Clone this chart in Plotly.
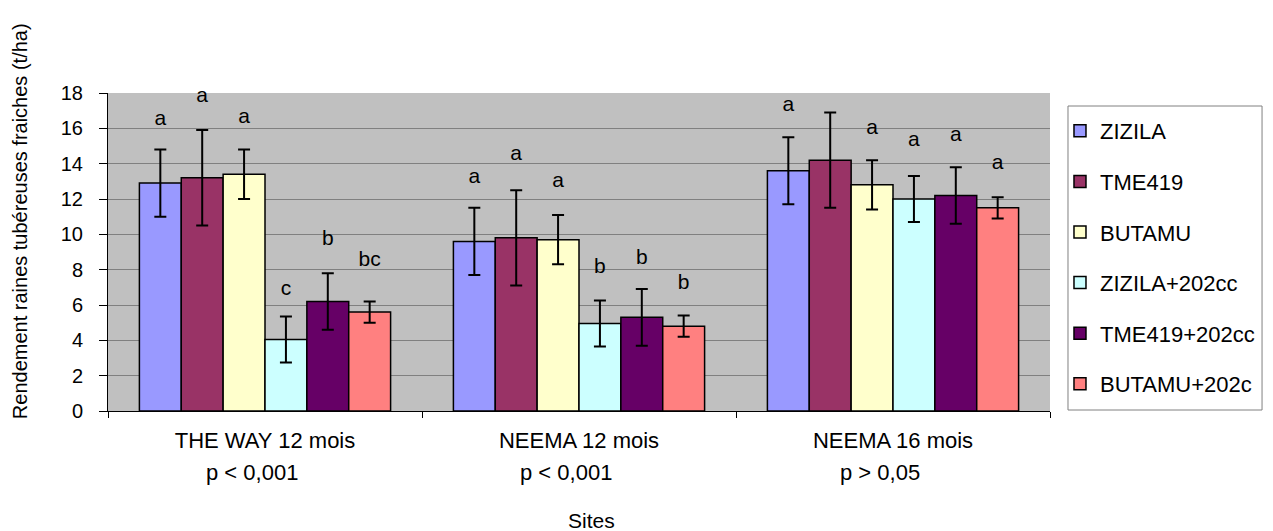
import plotly.graph_objects as go

sites = ["THE WAY 12 mois", "NEEMA 12 mois", "NEEMA 16 mois"]
pvalues = ["p < 0,001", "p < 0,001", "p > 0,05"]

series = ["ZIZILA", "TME419", "BUTAMU", "ZIZILA+202cc", "TME419+202cc", "BUTAMU+202c"]
colors = ["#9999FF", "#993366", "#FFFFCC", "#CCFFFF", "#660066", "#FF8080"]

zizila = [12.9, 9.6, 13.6]
tme419 = [13.2, 9.8, 14.2]
butamu = [13.4, 9.7, 12.8]
zizila_202 = [4.05, 4.95, 12.0]
tme419_202 = [6.2, 5.3, 12.2]
butamu_202 = [5.6, 4.8, 11.5]
values = [zizila, tme419, butamu, zizila_202, tme419_202, butamu_202]

errors = [[1.9, 1.9, 1.9], [2.7, 2.7, 2.7], [1.4, 1.4, 1.4],
          [1.3, 1.3, 1.3], [1.6, 1.6, 1.6], [0.6, 0.6, 0.6]]

letters = [["a", "a", "a"], ["a", "a", "a"], ["a", "a", "a"],
           ["c", "b", "a"], ["b", "b", "a"], ["bc", "b", "a"]]
letter_y = [[16.5, 13.2, 17.3], [17.8, 14.5, 18.1], [16.6, 13.0, 16.0],
            [6.85, 8.1, 15.3], [9.7, 8.6, 15.6], [8.5, 7.2, 14.0]]

FONT = "Liberation Sans, Arial, sans-serif"

fig = go.Figure()
for i, name in enumerate(series):
    fig.add_trace(go.Bar(
        x=sites, y=values[i], name=name,
        marker=dict(color=colors[i], line=dict(color="#000000", width=1.5)),
        error_y=dict(type="data", array=errors[i], visible=True,
                     color="#000000", thickness=2, width=6),
        offsetgroup=str(i), legendgroup=name,
    ))
for i, name in enumerate(series):
    fig.add_trace(go.Scatter(
        x=sites, y=letter_y[i], text=letters[i], mode="text",
        textposition="middle center",
        textfont=dict(family=FONT, size=21, color="#000000"),
        offsetgroup=str(i), showlegend=False, cliponaxis=False,
        hoverinfo="skip",
    ))

annotations = []
for s, p in zip(sites, pvalues):
    annotations.append(dict(x=s, xref="x", y=-0.192, yref="paper", text=p,
                            showarrow=False, xshift=-13, xanchor="center", yanchor="middle",
                            font=dict(family=FONT, size=22, color="#000000")))
annotations.append(dict(x=0.513, xref="paper", y=-0.343, yref="paper", text="Sites",
                        showarrow=False, xanchor="center", yanchor="middle",
                        font=dict(family=FONT, size=21, color="#000000")))
annotations.append(dict(x=-0.0934, xref="paper", y=0.597, yref="paper",
                        text="Rendement raines tubéreuses fraiches (t/ha)",
                        textangle=-90, showarrow=False, xanchor="center", yanchor="middle",
                        font=dict(family=FONT, size=20, color="#000000")))

shapes = [dict(type="rect", xref="paper", yref="paper",
               x0=1.0191, x1=1.2251, y0=0.0031, y1=0.9591,
               line=dict(color="#808080", width=1), fillcolor="rgba(0,0,0,0)")]

fig.update_layout(
    width=1265, height=523,
    margin=dict(l=100, r=223, t=85, b=120),
    paper_bgcolor="#FFFFFF", plot_bgcolor="#C0C0C0",
    barmode="group", bargap=0.2, bargroupgap=0,
    scattermode="group", scattergap=0.2,
    font=dict(family=FONT, color="#000000"),
    showlegend=True,
    legend=dict(x=1.0106, xanchor="left", y=0.9465, yanchor="top",
                borderwidth=0, bgcolor="rgba(0,0,0,0)",
                font=dict(family=FONT, size=22, color="#000000"),
                traceorder="grouped", tracegroupgap=19),
    annotations=annotations,
    shapes=shapes,
)
fig.update_yaxes(range=[0, 18], dtick=2, showgrid=True, gridcolor="#808080", gridwidth=1,
                 showline=True, linecolor="#000000", linewidth=1,
                 ticks="outside", ticklen=8, tickcolor="#000000", ticklabelstandoff=12,
                 tickfont=dict(family=FONT, size=20, color="#000000"), zeroline=False)
fig.update_xaxes(showline=True, linecolor="#000000", linewidth=1,
                 ticks="outside", tickson="boundaries", ticklen=6, tickcolor="#000000",
                 ticklabelstandoff=10,
                 tickfont=dict(family=FONT, size=22, color="#000000"))

fig.write_html("out.html")
